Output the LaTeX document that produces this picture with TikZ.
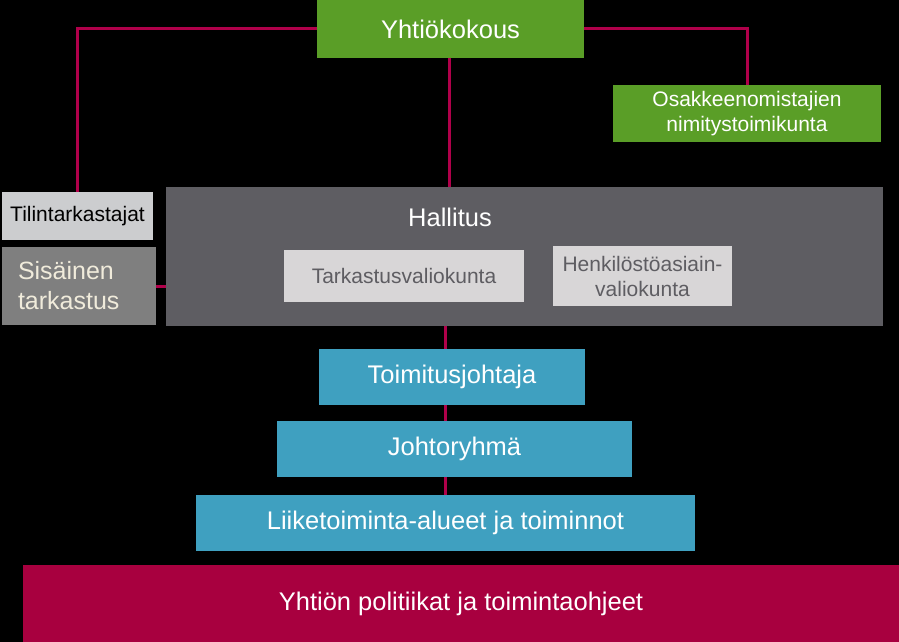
\documentclass[tikz,border=0pt]{standalone}
\usepackage{fontspec}
\setmainfont{Liberation Sans}
\definecolor{cgreen}{HTML}{5A9E27}
\definecolor{cblue}{HTML}{3FA0C0}
\definecolor{ccrim}{HTML}{A8003F}
\definecolor{cline}{HTML}{B0004A}
\definecolor{cdark}{HTML}{5E5D62}
\definecolor{clight}{HTML}{CCCDCF}
\definecolor{csub}{HTML}{D8D6D7}
\definecolor{cmid}{HTML}{7F7F7F}
\definecolor{ccream}{HTML}{F0EBDB}
\begin{document}
\begin{tikzpicture}[x=1pt,y=-1pt,
  box/.style={anchor=north west,inner sep=0pt,outer sep=0pt,align=center},
  conn/.style={draw=cline,line width=3pt},
  big/.style={font=\fontsize{25.5}{30}\selectfont},
  small/.style={font=\fontsize{21}{25}\selectfont}]
\fill[black] (0,0) rectangle (899,642);
\useasboundingbox (0,0) rectangle (899,642);
% boxes
\node[box,fill=cgreen,text=white,big,minimum width=267pt,minimum height=58pt] (yk) at (317,0) {Yhtiökokous};
\node[box,fill=cgreen,text=white,small,minimum width=268pt,minimum height=57pt] (osa) at (613,85) {Osakkeenomistajien\\nimitystoimikunta};
\node[box,fill=clight,text=black,small,minimum width=151pt,minimum height=48pt] (tt) at (2,192) {Tilintarkastajat};
\node[box,fill=cmid,text=ccream,font=\fontsize{25}{30}\selectfont,align=left,text width=122pt,minimum width=154pt,minimum height=78pt,inner xsep=16pt,inner ysep=0pt] (sis) at (2,247) {Sisäinen\\tarkastus};
\node[box,fill=cdark,minimum width=717pt,minimum height=139pt] (hall) at (166,187) {};
\node[text=white,big,inner sep=0pt] (htitle) at (450,217) {Hallitus};
\node[box,fill=csub,text=cdark,small,minimum width=240pt,minimum height=52pt] (tv) at (284,250) {Tarkastusvaliokunta};
\node[box,fill=csub,text=cdark,small,minimum width=179pt,minimum height=60pt] (hv) at (553,246) {Henkilöstöasiain-\\valiokunta};
\node[box,fill=cblue,text=white,big,minimum width=266pt,minimum height=56pt] (tj) at (319,349) {Toimitusjohtaja};
\node[box,fill=cblue,text=white,big,minimum width=355pt,minimum height=56pt] (jr) at (277,421) {Johtoryhmä};
\node[box,fill=cblue,text=white,big,minimum width=499pt,minimum height=56pt] (lt) at (196,495) {Liiketoiminta-alueet ja toiminnot};
\node[box,fill=ccrim,text=white,big,minimum width=876pt,minimum height=77pt] (pol) at (23,565) {Yhtiön politiikat ja toimintaohjeet};
% connectors
\coordinate (spine) at (445,0);
\draw[conn] (yk.west) -| (tt.north);
\draw[conn] (yk.east) -| (osa.north);
\draw[conn] (yk.south -| 449,0) -- (hall.north -| 449,0);
\draw[conn] (sis.east) -- (sis.east -| hall.west);
\draw[conn] (hall.south -| spine) -- (tj.north -| spine);
\draw[conn] (tj.south -| spine) -- (jr.north -| spine);
\draw[conn] (jr.south -| spine) -- (lt.north -| spine);
\end{tikzpicture}
\end{document}
